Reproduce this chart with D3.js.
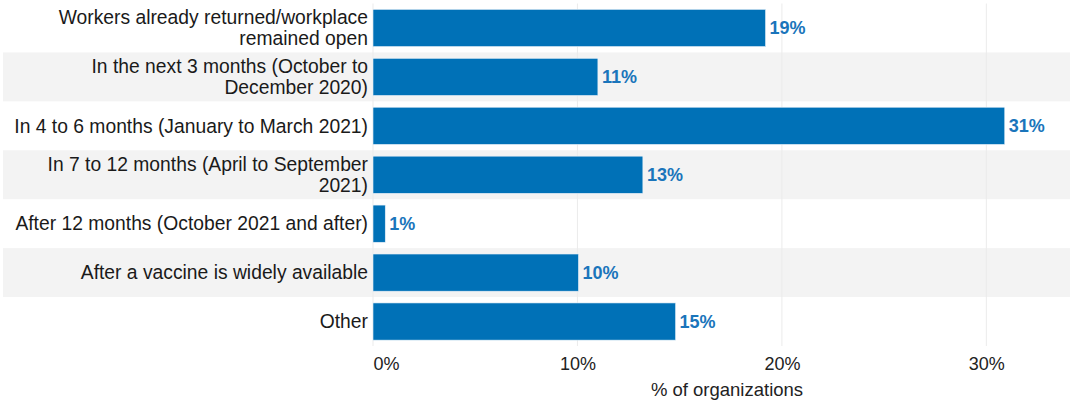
<!DOCTYPE html>
<html lang="en">
<head>
<meta charset="utf-8">
<title>Return to workplace</title>
<script src="https://d3js.org/d3.v7.min.js"></script>
<style>
  body, html { margin: 0; padding: 0; background: #fff; }
  text { font-family: "Liberation Sans", Arial, sans-serif; }
</style>
</head>
<body>
<div id="chart"></div>
<script>
var categories = [
  ["Workers already returned/workplace", "remained open"],
  ["In the next 3 months (October to", "December 2020)"],
  ["In 4 to 6 months (January to March 2021)"],
  ["In 7 to 12 months (April to September", "2021)"],
  ["After 12 months (October 2021 and after)"],
  ["After a vaccine is widely available"],
  ["Other"]
]
var values = [19.2, 11.0, 30.9, 13.2, 0.6, 10.05, 14.8]
var valueLabels = ["19%", "11%", "31%", "13%", "1%", "10%", "15%"]
var xTicks = [0, 10, 20, 30]

var width = 1070, height = 402
var margin = {top: 3.5, right: 8, bottom: 56, left: 373}

var svg = d3.select("#chart").append("svg")
  .attr("width", width)
  .attr("height", height)

var x = d3.scaleLinear()
  .domain([0, 33.7])
  .range([margin.left, width - margin.right])

var y = d3.scaleBand()
  .domain(d3.range(categories.length))
  .range([margin.top, height - margin.bottom])
  .paddingInner(0.24)
  .paddingOuter(0.12)

var step = y.step()

// alternating stripes
svg.selectAll("rect.stripe")
  .data(d3.range(categories.length).filter(i => i % 2 === 1))
  .enter().append("rect")
  .attr("class", "stripe")
  .attr("x", 3)
  .attr("y", i => y(i) - (step - y.bandwidth()) / 2)
  .attr("width", width - 3)
  .attr("height", step)
  .attr("fill", "#f3f3f3")

// gridlines
svg.selectAll("line.grid")
  .data(xTicks)
  .enter().append("line")
  .attr("class", "grid")
  .attr("x1", d => x(d))
  .attr("x2", d => x(d))
  .attr("y1", margin.top)
  .attr("y2", height - margin.bottom)
  .attr("stroke", "#ebebeb")
  .attr("stroke-width", 1)

// bars
svg.selectAll("rect.bar")
  .data(values)
  .enter().append("rect")
  .attr("class", "bar")
  .attr("x", x(0))
  .attr("y", (d, i) => y(i))
  .attr("width", d => x(d) - x(0))
  .attr("height", y.bandwidth())
  .attr("fill", "#0071b7")
  .attr("stroke", "#e8f0f8")
  .attr("stroke-width", 0.6)

// value labels
svg.selectAll("text.val")
  .data(values)
  .enter().append("text")
  .attr("class", "val")
  .attr("x", d => x(d) + 4)
  .attr("y", (d, i) => y(i) + y.bandwidth() / 2)
  .attr("dy", "0.35em")
  .attr("font-size", "18px")
  .attr("font-weight", "bold")
  .attr("fill", "#1a75bb")
  .text((d, i) => valueLabels[i])

// category labels
var lineH = 21
categories.forEach((lines, i) => {
  var cy = y(i) + y.bandwidth() / 2
  var t = svg.append("text")
    .attr("text-anchor", "end")
    .attr("font-size", "19.3px")
    .attr("fill", "#1a1a1a")
  lines.forEach((l, j) => {
    t.append("tspan")
      .attr("x", 368)
      .attr("y", cy + (j - (lines.length - 1) / 2) * lineH)
      .attr("dy", "0.35em")
      .text(l)
  })
})

// x axis
var axis = svg.append("g")
  .attr("transform", "translate(0," + (height - margin.bottom) + ")")
  .call(d3.axisBottom(x).tickValues(xTicks).tickFormat(d => d + "%").tickSize(0).tickPadding(11))
axis.select(".domain").remove()
axis.selectAll("text")
  .attr("font-size", "18px")
  .attr("fill", "#222")
  .attr("font-family", "Liberation Sans, Arial, sans-serif")
  .attr("text-anchor", d => d === 0 ? "start" : "middle")

svg.append("text")
  .attr("x", 727)
  .attr("y", 396)
  .attr("text-anchor", "middle")
  .attr("font-size", "18.5px")
  .attr("fill", "#222")
  .text("% of organizations")
</script>
</body>
</html>
